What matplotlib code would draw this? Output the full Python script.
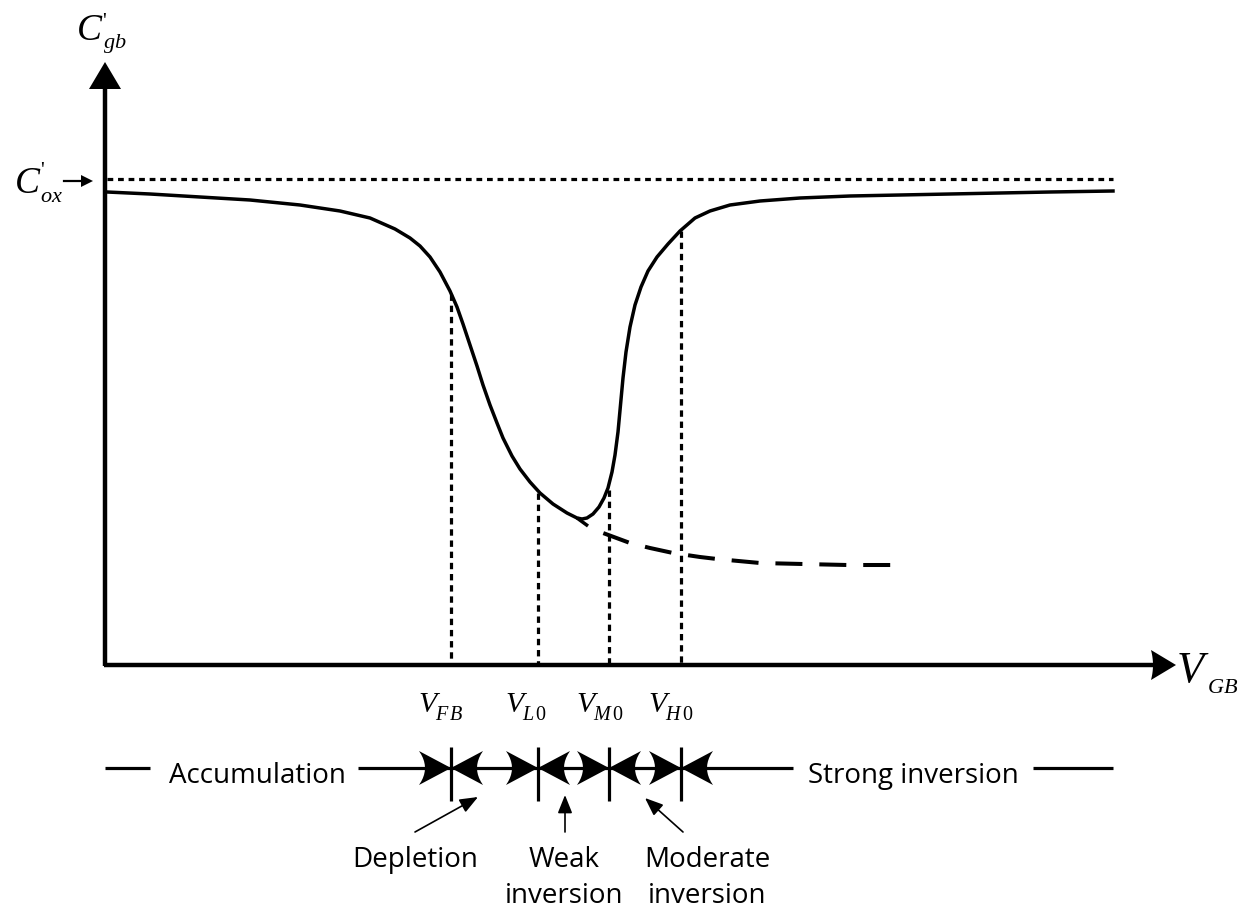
import numpy as np
import matplotlib
matplotlib.use('Agg')
import matplotlib.pyplot as plt

plt.rcParams['mathtext.fontset'] = 'custom'
plt.rcParams['mathtext.it'] = 'Liberation Serif:italic'
plt.rcParams['mathtext.rm'] = 'Liberation Serif'

# everything is in picture units: x to the right, y downwards
ORIGIN = (105, 665)
X_TIP = 1176
Y_TIP = 62
COX_Y = 179
RIGHT_END = 1113

# C'gb(VGB) curve
curve_v = [107, 150, 200, 250, 300, 340, 370, 395, 410,
           420, 430, 440, 450, 457, 463, 470, 477, 483, 490, 497, 503,
           512, 520, 530, 540, 553, 567, 577, 582,
           587, 593, 599, 604, 608, 612, 615, 618, 620.5, 623, 626, 630,
           635, 641, 648, 657, 668, 680,
           695, 710, 730, 760, 800, 850, 900, 950, 1000, 1050, 1113]
curve_c = [192, 194, 197, 200, 205, 211, 218, 229, 238,
           246, 257, 272, 291, 307, 324, 345, 366, 385, 405, 423, 438,
           456, 469, 482, 493, 504, 513, 518, 519,
           518, 514, 507, 498, 488, 472, 455, 432, 405, 378, 352, 327,
           305, 287, 271, 257, 244, 231,
           218, 211, 205, 201, 198, 196, 195, 194, 193, 192, 191]

# short solid tail past the minimum, then the dashed depletion-only branch
tail_v = [577, 588]
tail_c = [518, 526]
dep_v = [588, 603, 630, 650, 673, 700, 717, 760, 803, 847, 892]
dep_c = [526, 533, 543, 548, 553, 557, 559, 563, 564, 565, 565]

# characteristic voltages
v_subs = ['FB', 'L0', 'M0', 'H0']
v_marks = [451, 538, 609, 681]
v_hits = [294, 493, 490, 231]

# regions
BAR_Y = 768
regions = ['Accumulation', 'Strong inversion']
region_x = [257, 913]
pointer_labels = ['Depletion', 'Weak\ninversion', 'Moderate\ninversion']
pointer_text_x = [415, 564, 707]
pointer_tail = [(415, 832), (565, 832), (683, 832)]
pointer_tip = [(478, 797), (565, 795), (645, 798)]


def head(ax, tip, direction, length, half, notch=0.0):
    d = np.array(direction, float)
    d /= np.linalg.norm(d)
    n = np.array([-d[1], d[0]])
    tip = np.array(tip, float)
    back = tip - d * length
    pts = [tip, back + n * half]
    for t in np.linspace(-1, 1, 11):
        pts.append(back + d * notch * (1 - t ** 2) - n * half * t)
    pts.append(back - n * half)
    pts = np.array(pts)
    ax.fill(pts[:, 0], pts[:, 1], color='k', lw=0, zorder=5)


fig = plt.figure(figsize=(12.43, 9.10), dpi=100)
ax = fig.add_axes([0, 0, 1, 1])
ax.set_xlim(0, 1243)
ax.set_ylim(910, 0)
ax.axis('off')

x0, y0 = ORIGIN
# axes
ax.plot([x0, x0], [y0 + 1, Y_TIP + 20], color='k', lw=3.2, solid_capstyle='butt')
ax.plot([x0 - 1, X_TIP - 20], [y0, y0], color='k', lw=3.2, solid_capstyle='butt')
head(ax, (x0, Y_TIP), (0, -1), 27, 16)
head(ax, (X_TIP, y0), (1, 0), 25, 15, notch=2)

# Cox level
ax.plot([x0 + 2, RIGHT_END], [COX_Y, COX_Y], color='k', lw=2.3,
        linestyle=(0, (1.8, 1.5)))
ax.plot([64, 82], [181, 181], color='k', lw=1.6)
head(ax, (93, 181), (1, 0), 12, 6)

# curve
ax.plot(curve_v, curve_c, color='k', lw=2.5, solid_joinstyle='round')
ax.plot(tail_v, tail_c, color='k', lw=2.5, solid_capstyle='butt')
ax.plot(dep_v, dep_c, color='k', lw=2.9, linestyle=(6.7, (6.7, 4.2)))

# dotted verticals
for xm, yh in zip(v_marks, v_hits):
    ax.plot([xm, xm], [yh, y0 - 2], color='k', lw=2.3, linestyle=(0, (2.0, 1.5)))

# labels
serif = 'Liberation Serif'
ax.text(77, 40, 'C', fontsize=27, family=serif, style='italic', va='baseline')
ax.text(103, 48, r'$gb$', fontsize=16, va='baseline')
ax.text(102, 27, "'", fontsize=15, family=serif, va='baseline')
ax.text(15, 193, 'C', fontsize=27, family=serif, style='italic', va='baseline')
ax.text(40, 202, r'$ox$', fontsize=16, va='baseline')
ax.text(40, 176, "'", fontsize=15, family=serif, va='baseline')
ax.text(1177, 682, 'V', fontsize=32, family=serif, style='italic', va='baseline')
ax.text(1207, 693, r'$GB$', fontsize=16, va='baseline')

for xm, sub in zip(v_marks, v_subs):
    ax.text(xm - 33, 712, 'V', fontsize=21.5, family=serif, style='italic',
            va='baseline')
    ax.text(xm - 16, 720, '$' + sub[0] + r'\,' + sub[1:] + '$', fontsize=14.5,
            va='baseline')

# region bar
sans = 'Open Sans'
segs = [(105, 150), (358, v_marks[0]), (v_marks[0], v_marks[1]),
        (v_marks[1], v_marks[2]), (v_marks[2], v_marks[3]),
        (v_marks[3], 793), (1033, RIGHT_END)]
for a, b in segs:
    ax.plot([a, b], [BAR_Y, BAR_Y], color='k', lw=2.3, solid_capstyle='butt')
for xm in v_marks:
    ax.plot([xm, xm], [747, 801], color='k', lw=2.3, solid_capstyle='butt')
    head(ax, (xm, BAR_Y), (1, 0), 32, 17, notch=6)
    head(ax, (xm, BAR_Y), (-1, 0), 32, 17, notch=6)

for xr, name in zip(region_x, regions):
    ax.text(xr, 783, name, fontsize=20, family=sans, ha='center', va='baseline')

for xt, lab, tl, tp in zip(pointer_text_x, pointer_labels, pointer_tail, pointer_tip):
    ax.annotate('', xy=tp, xytext=tl,
                arrowprops=dict(arrowstyle='-|>,head_length=0.55,head_width=0.22',
                                mutation_scale=20, lw=1.2, color='k',
                                shrinkA=0, shrinkB=0))
    for k, line in enumerate(lab.split('\n')):
        ax.text(xt, 867 + 36 * k, line, fontsize=20, family=sans, ha='center',
                va='baseline')

fig.savefig('out.png', dpi=100)
